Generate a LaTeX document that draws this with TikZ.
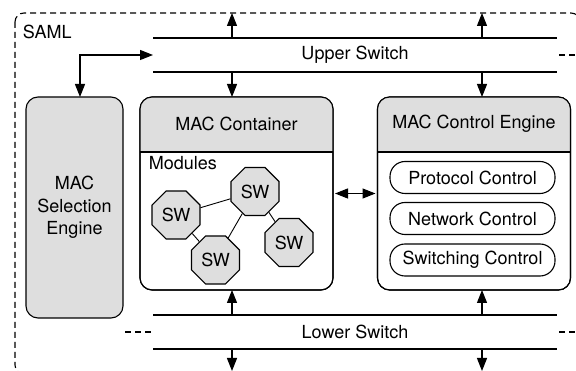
\documentclass[tikz,border=0pt]{standalone}
\usepackage{fontspec}
\setmainfont{TeX Gyre Heros}
\usetikzlibrary{arrows.meta,shapes.geometric,calc}
\definecolor{boxgray}{HTML}{DEDEDE}

\begin{document}
\begin{tikzpicture}[x=1pt,y=-1pt,line width=1.1pt,
  every node/.style={font=\fontsize{18}{22.5}\selectfont},
  arr/.style={-{Triangle[length=13pt,width=10pt]}},
  darr/.style={{Triangle[length=13pt,width=10pt]}-{Triangle[length=13pt,width=10pt]}},
  samlframe/.style={dash pattern=on 6pt off 4pt},
  bus/.style={minimum width=404pt,minimum height=34pt,inner sep=0pt,outer sep=0pt},
  box/.style={draw,rounded corners=12pt,minimum width=193pt,minimum height=193pt,outer sep=0pt},
  sw/.style={draw,fill=boxgray,regular polygon,regular polygon sides=8,minimum size=52pt,inner sep=0pt},
  ctl/.style={draw,rounded corners=15pt,minimum width=165pt,minimum height=32pt,inner sep=0pt},
  link/.style={line width=0.9pt}]
\useasboundingbox (0,0) rectangle (576,371);
\draw[samlframe,rounded corners=9pt] (15,13) rectangle (580,374);
\node[anchor=west] (saml) at (19,32) {SAML};
\coordinate (ftop) at (0,13);
\coordinate (fbot) at (0,371);
\coordinate (xa) at (232,0);
\coordinate (xb) at (482,0);
\coordinate (ur) at (576,55);
\coordinate (ll) at (125,332);
\coordinate (lr) at (576,332);
\coordinate (hd) at (0,152);
% switches
\node[bus] (upper) at (355,55) {Upper Switch};
\node[bus] (lower) at (355,332) {Lower Switch};
\draw (upper.north west) -- (upper.north east) (upper.south west) -- (upper.south east);
\draw (lower.north west) -- (lower.north east) (lower.south west) -- (lower.south east);
\draw[samlframe] ($(upper.east)+(2,0)$) -- (ur);
\draw[samlframe] (ll) -- (lower.west);
\draw[samlframe] ($(lower.east)+(2,0)$) -- (lr);
% engines
\node[box,fill=boxgray,minimum width=97pt,minimum height=221pt,align=center] (sel) at (74.5,207.5) {MAC\\Selection\\Engine};
\node[box] (cont) at (236.5,193.5) {};
\node[box] (ctrl) at (474,193.5) {};
\begin{scope}
\clip (cont.north west) rectangle (cont.east |- hd);
\fill[boxgray,rounded corners=12pt] (cont.south west) rectangle (cont.north east);
\end{scope}
\begin{scope}
\clip (ctrl.north west) rectangle (ctrl.east |- hd);
\fill[boxgray,rounded corners=12pt] (ctrl.south west) rectangle (ctrl.north east);
\end{scope}
\draw[rounded corners=12pt] (cont.south west) rectangle (cont.north east);
\draw[rounded corners=12pt] (ctrl.south west) rectangle (ctrl.north east);
\draw (cont.west |- hd) -- (cont.east |- hd);
\draw (ctrl.west |- hd) -- (ctrl.east |- hd);
\node (contname) at (236.5,124) {MAC Container};
\node (ctrlname) at (474,124) {MAC Control Engine};
\node[anchor=west] (mods) at (145,163) {Modules};
\node[sw] (sw1) at (255,191.5) {SW};
\node[sw] (sw2) at (176,215) {SW};
\node[sw] (sw3) at (215.5,260) {SW};
\node[sw] (sw4) at (289,242.5) {SW};
\draw[link] (sw1) -- (sw2);
\draw[link] (sw1) -- (sw3);
\draw[link] (sw2) -- (sw3);
\draw[link] (sw1) -- (sw4);
\node[ctl] (proto) at (472.5,177.5) {Protocol Control};
\node[ctl] (net) at (472.5,218.5) {Network Control};
\node[ctl] (swc) at (472.5,260) {Switching Control};
% arrows
\draw[arr] (xa |- upper.north) -- (xa |- ftop);
\draw[arr] (xa |- upper.south) -- (xa |- cont.north);
\draw[arr] (xb |- upper.north) -- (xb |- ftop);
\draw[arr] (xb |- upper.south) -- (xb |- ctrl.north);
\draw[arr] (xa |- lower.north) -- (xa |- cont.south);
\draw[arr] (xa |- lower.south) -- (xa |- fbot);
\draw[arr] (xb |- lower.north) -- (xb |- ctrl.south);
\draw[arr] (xb |- lower.south) -- (xb |- fbot);
\draw[darr] (upper.west) -| ($(sel.north)+(5.5,0)$);
\draw[darr,shorten <=2pt,shorten >=2pt] (cont.east) -- (ctrl.west);
\end{tikzpicture}
\end{document}
